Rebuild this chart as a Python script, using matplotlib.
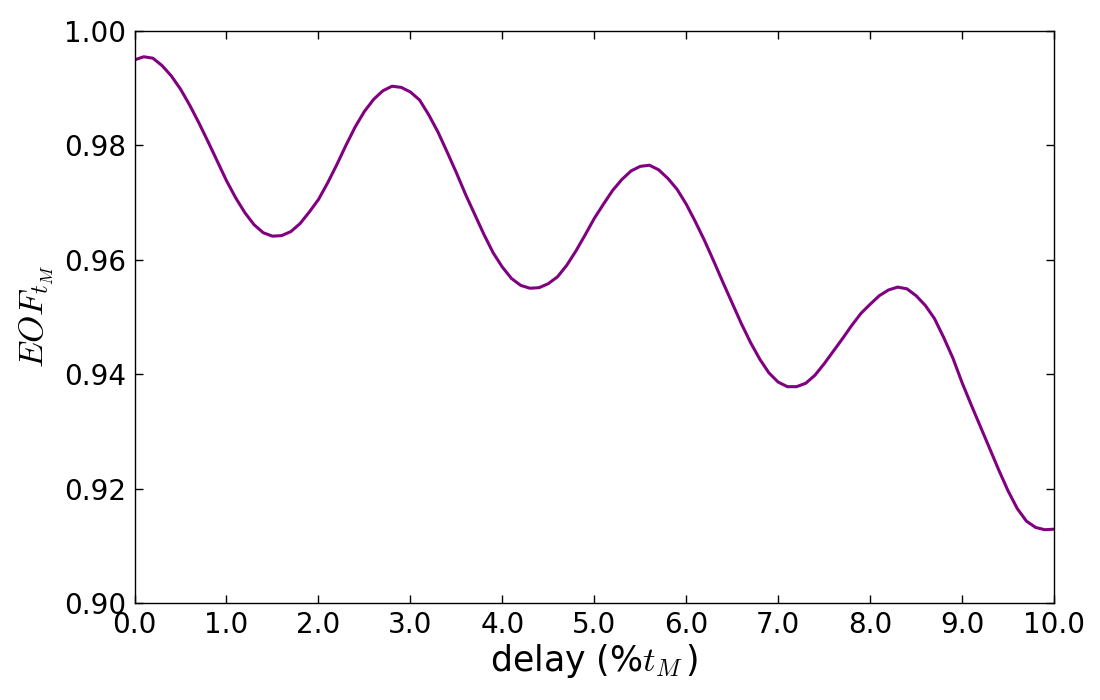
import numpy as np
import matplotlib
matplotlib.use("Agg")
import matplotlib.pyplot as plt
from matplotlib.ticker import FormatStrFormatter

# delay in % of t_M, sampled every 0.1
delay = np.arange(0, 101) / 10.0
eof = [
    0.9949, 0.99545, 0.9952, 0.9939, 0.9921, 0.9898, 0.9870, 0.9839, 0.9806, 0.9772,
    0.9738, 0.9708, 0.9682, 0.9661, 0.9647, 0.9641, 0.9642, 0.9649, 0.9663, 0.9683,
    0.9705, 0.9734, 0.9766, 0.9800, 0.9832, 0.9859, 0.9880, 0.9895, 0.9903, 0.9901,
    0.9893, 0.9879, 0.9853, 0.9823, 0.9788, 0.9752, 0.9714, 0.9679, 0.9644, 0.9612,
    0.9587, 0.9567, 0.9555, 0.9550, 0.9551, 0.9558, 0.9570, 0.9590, 0.9615, 0.9643,
    0.9672, 0.9697, 0.9721, 0.9740, 0.9755, 0.9763, 0.9765, 0.9757, 0.9742, 0.9723,
    0.9697, 0.9666, 0.9633, 0.9597, 0.9560, 0.9524, 0.9488, 0.9455, 0.9426, 0.9402,
    0.9386, 0.9378, 0.9378, 0.9384, 0.9398, 0.9418, 0.9440, 0.9462, 0.9485, 0.9506,
    0.9522, 0.9537, 0.9547, 0.9552, 0.9549, 0.9537, 0.9520, 0.9497, 0.9464, 0.9428,
    0.9385, 0.9346, 0.9308, 0.9270, 0.9232, 0.9196, 0.9165, 0.9143, 0.9132, 0.9128,
    0.9129,
]

xticks = np.arange(0, 11)
yticks = [0.90, 0.92, 0.94, 0.96, 0.98, 1.00]

plt.rcParams['mathtext.fontset'] = 'cm'

fig = plt.figure(figsize=(11, 7), dpi=100)
ax = fig.add_axes([0.1223, 0.1386, 0.8359, 0.8175])

ax.plot(delay, eof, color='purple', lw=2.2)

ax.set_xlim(0, 10)
ax.set_ylim(0.90, 1.00)
ax.set_xticks(xticks)
ax.set_yticks(yticks)
ax.xaxis.set_major_formatter(FormatStrFormatter('%.1f'))
ax.yaxis.set_major_formatter(FormatStrFormatter('%.2f'))
ax.tick_params(direction='in', top=True, right=True, length=6, width=1,
               labelsize=20, pad=6)
for sp in ax.spines.values():
    sp.set_linewidth(1)

ax.set_xlabel('delay (%$t_M\\,$)', fontsize=25, labelpad=2)
ax.set_ylabel('$EOF_{t_M}$', fontsize=25, labelpad=6)

fig.savefig('out.png', dpi=100)
